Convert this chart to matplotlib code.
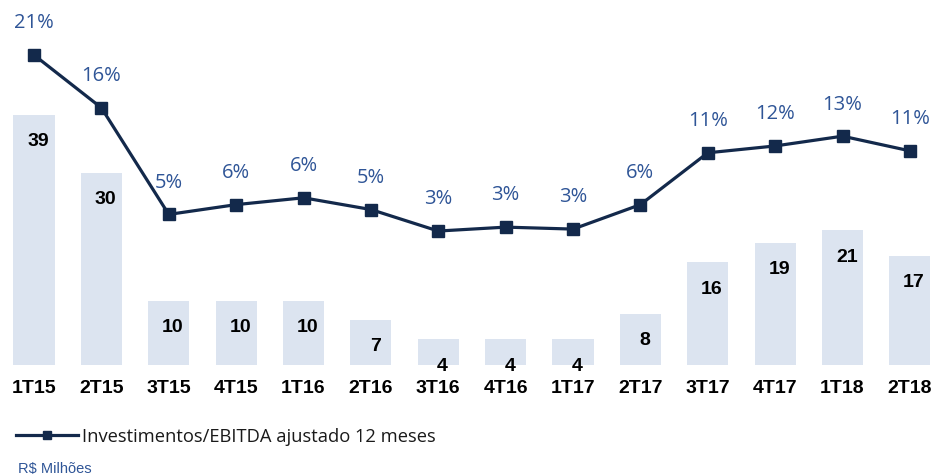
import matplotlib
matplotlib.use("Agg")
import matplotlib.pyplot as plt

categories = ["1T15", "2T15", "3T15", "4T15", "1T16", "2T16", "3T16", "4T16",
              "1T17", "2T17", "3T17", "4T17", "1T18", "2T18"]
investimentos = [39, 30, 10, 10, 10, 7, 4, 4, 4, 8, 16, 19, 21, 17]
ratio_pct = [21, 15.6, 4.7, 5.7, 6.4, 5.2, 3.0, 3.4, 3.2, 5.7, 11.0, 11.7, 12.7, 11.2]
legend_label = "Investimentos/EBITDA ajustado 12 meses"
unit_note = "R$ Milhões"

W, H = 934, 477
fig = plt.figure(figsize=(W / 100, H / 100), dpi=100)
base_px = 111
ax = fig.add_axes([0, base_px / H, 1, 1 - base_px / H])
px_per_unit = 67.38
ax.set_xlim(-34 / px_per_unit, (W - 34) / px_per_unit)
ax.set_ylim(0, (H - base_px) / 6.41)

x = list(range(len(categories)))
bar_color = "#DCE4F0"
ax.bar(x, investimentos, width=0.61, color=bar_color, zorder=1)
for xi, v in zip(x, investimentos):
    ax.annotate(f"{v}", (xi, v), xytext=(3, -18.5), textcoords="offset points",
                ha="center", va="center", fontsize=14, fontweight="bold",
                family="Liberation Sans", color="#000000", zorder=3)

for s in ax.spines.values():
    s.set_visible(False)
ax.set_yticks([])
ax.set_xticks(x)
ax.set_xticklabels(categories, fontsize=14, fontweight="bold", family="Liberation Sans")
ax.tick_params(axis="x", length=0, pad=10)

ax2 = ax.twinx()
ax2.set_ylim(21 - 310 / 9.78, 21 + 56 / 9.78)
ax2.set_yticks([])
for s in ax2.spines.values():
    s.set_visible(False)
line_color = "#13294B"
ln, = ax2.plot(x, ratio_pct, color=line_color, linewidth=2.3, marker="s",
               markersize=9, zorder=4, label=legend_label)
for xi, v in zip(x, ratio_pct):
    ax2.annotate(f"{round(v):.0f}%", (xi, v), xytext=(0, 23.5), textcoords="offset points",
                 ha="center", va="center", fontsize=14.5, family="Open Sans",
                 color="#2F5597")

fig.legend(handles=[ln], loc="center left", bbox_to_anchor=(16 / W, 1 - 437 / H),
           frameon=False, handlelength=3.4, handletextpad=0.2, borderpad=0,
           borderaxespad=0, prop={"family": "Open Sans", "size": 13.2},
           labelcolor="#1a1a1a", markerscale=0.7)
fig.text(18 / W, 1 - 469 / H, unit_note, fontsize=10.5, family="Liberation Sans",
         color="#2F5597", ha="left", va="center")

fig.savefig("out.png", dpi=100)
